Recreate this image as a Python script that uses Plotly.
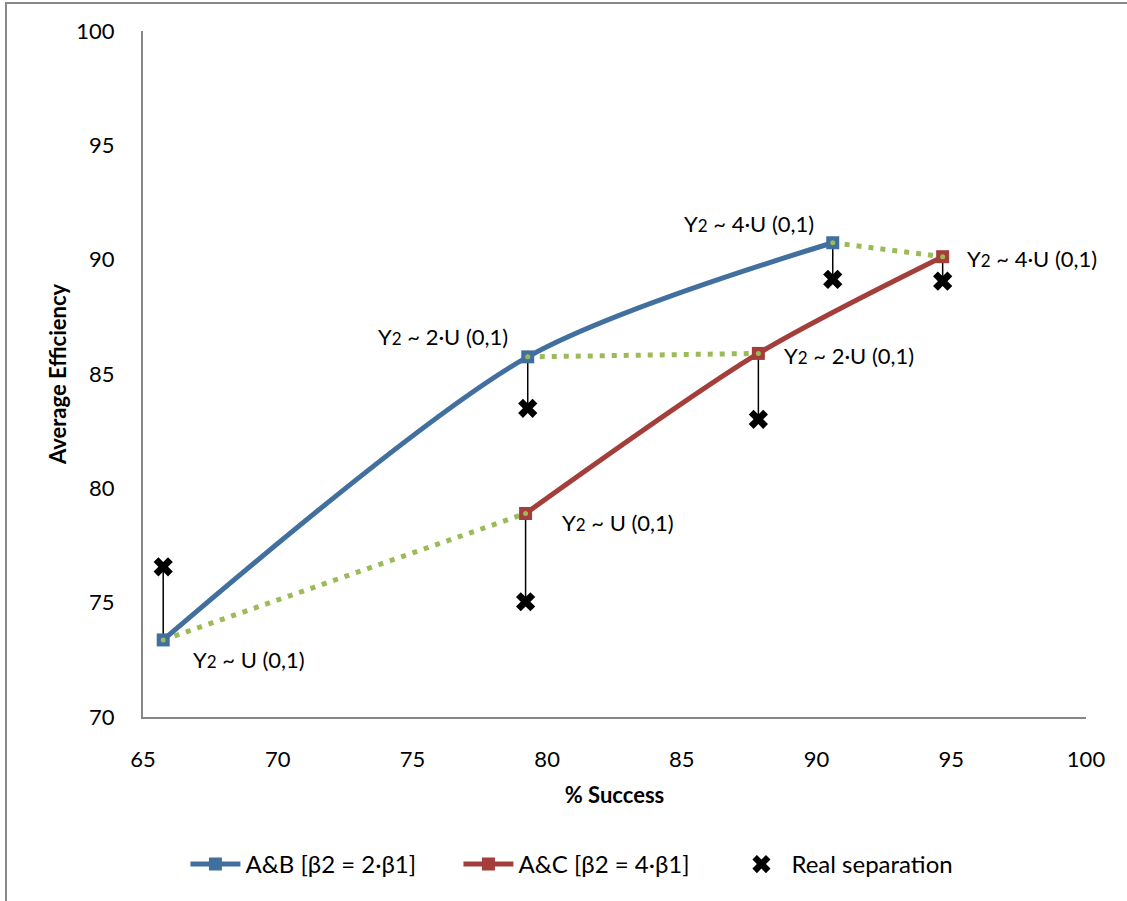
import plotly.graph_objects as go

# Data
ab_x = [65.75, 79.28, 90.6]
ab_y = [73.37, 85.75, 90.74]
ac_x = [79.2, 87.84, 94.68]
ac_y = [78.9, 85.9, 90.13]
real_x = [65.75, 79.28, 79.2, 87.84, 90.6, 94.68]
real_y = [76.57, 83.5, 75.04, 83.02, 89.14, 89.06]
# model point each real separation belongs to
real_from_y = [73.37, 85.75, 78.9, 85.9, 90.74, 90.13]
SUB2 = "Y<span style='font-size:17px'>2</span>"
labels_ab = [SUB2 + " ~ U (0,1)", SUB2 + " ~ 2·U (0,1)", SUB2 + " ~ 4·U (0,1)"]
labels_ac = [SUB2 + " ~ U (0,1)", SUB2 + " ~ 2·U (0,1)", SUB2 + " ~ 4·U (0,1)"]

BLUE = "#41709F"
RED = "#A33E3B"
GREEN = "#9BBB59"
FONT = "Lato"
FS = 22

fig = go.Figure()

# green dotted connectors between paired points
for i in range(3):
    fig.add_trace(go.Scatter(x=[ab_x[i], ac_x[i]], y=[ab_y[i], ac_y[i]], mode="lines",
                             line=dict(color=GREEN, width=5, dash="5px,7px"),
                             showlegend=False, hoverinfo="skip"))

# black vertical drop lines
for i in range(len(real_x)):
    fig.add_trace(go.Scatter(x=[real_x[i], real_x[i]], y=[real_from_y[i], real_y[i]], mode="lines",
                             line=dict(color="black", width=1.5),
                             showlegend=False, hoverinfo="skip"))

fig.add_trace(go.Scatter(x=ab_x, y=ab_y, mode="lines+markers", name="A&B [β2 = 2·β1]",
                         line=dict(color=BLUE, width=5, shape="spline", smoothing=0.8),
                         marker=dict(symbol="square", size=13, color=BLUE)))
fig.add_trace(go.Scatter(x=ac_x, y=ac_y, mode="lines+markers", name="A&C [β2 = 4·β1]",
                         line=dict(color=RED, width=5, shape="spline", smoothing=0.8),
                         marker=dict(symbol="square", size=13, color=RED)))
fig.add_trace(go.Scatter(x=real_x, y=real_y, mode="markers", name="Real separation",
                         marker=dict(symbol="x", size=17, color="black")))

# small green dot at each marker centre (connector end)
for i in range(3):
    fig.add_trace(go.Scatter(x=[ab_x[i], ac_x[i]], y=[ab_y[i], ac_y[i]], mode="markers",
                             marker=dict(color=GREEN, size=5),
                             showlegend=False, hoverinfo="skip"))

ann = [
    dict(x=ab_x[0], y=ab_y[0], text=labels_ab[0], xanchor="left", yanchor="middle", xshift=28, yshift=-20),
    dict(x=ab_x[1], y=ab_y[1], text=labels_ab[1], xanchor="right", yanchor="middle", xshift=-18, yshift=20),
    dict(x=ab_x[2], y=ab_y[2], text=labels_ab[2], xanchor="right", yanchor="bottom", xshift=-17, yshift=4),
    dict(x=ac_x[0], y=ac_y[0], text=labels_ac[0], xanchor="left", yanchor="middle", xshift=34, yshift=-9),
    dict(x=ac_x[1], y=ac_y[1], text=labels_ac[1], xanchor="left", yanchor="middle", xshift=24, yshift=-2),
    dict(x=ac_x[2], y=ac_y[2], text=labels_ac[2], xanchor="left", yanchor="middle", xshift=22, yshift=-2),
]
for a in ann:
    a.update(xref="x", yref="y", showarrow=False, font=dict(family=FONT, size=FS, color="black"))

fig.update_layout(
    width=1127, height=901,
    margin=dict(l=143, r=41, t=31, b=184),
    paper_bgcolor="white", plot_bgcolor="white",
    font=dict(family=FONT, size=FS, color="black"),
    annotations=ann,
    showlegend=True,
    legend=dict(orientation="h", x=0.045, xanchor="left", y=-0.215, yanchor="middle",
                font=dict(family=FONT, size=24), itemwidth=50,
                entrywidth=208, entrywidthmode="pixels", traceorder="normal"),
    shapes=[dict(type="rect", xref="paper", yref="paper",
                 x0=(6 - 143) / 943, x1=(1160 - 143) / 943,
                 y0=-(940 - 717) / 686, y1=1 + (31 - 3) / 686,
                 line=dict(color="#888888", width=2), layer="below")],
)
fig.update_xaxes(range=[65, 100], dtick=5, showgrid=False, zeroline=False,
                 showline=True, linecolor="#868686", linewidth=2, ticks="",
                 ticklabelstandoff=22,
                 title=dict(text="<b>% Success</b>", font=dict(family=FONT, size=FS), standoff=16),
                 tickfont=dict(family=FONT, size=FS))
fig.update_yaxes(range=[70, 100], dtick=5, showgrid=False, zeroline=False,
                 showline=True, linecolor="#868686", linewidth=2, ticks="",
                 ticklabelstandoff=22,
                 title=dict(text="<b>Average Efficiency</b>", font=dict(family=FONT, size=FS), standoff=4),
                 tickfont=dict(family=FONT, size=FS))

fig.write_html("out.html")
